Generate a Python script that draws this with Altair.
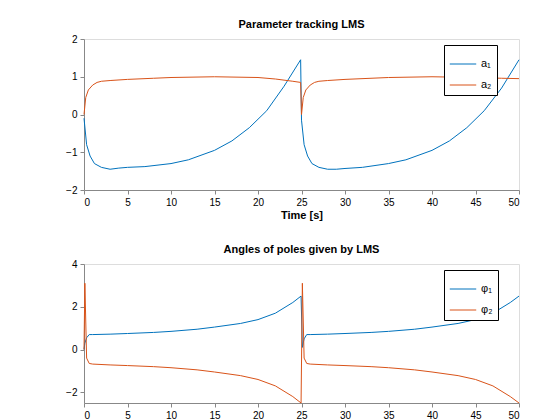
import altair as alt
import pandas as pd

BLUE = "#0072BD"
ORANGE = "#D95319"

# top panel: parameters a1, a2
t_a1 = [0, 0.3, 0.7, 1.2, 2, 3, 4, 5, 7, 10, 12, 15, 17, 19, 21, 23, 24.9,
        25.0, 25.3, 25.7, 26.2, 27, 28, 29, 30, 32, 35, 37, 40, 42, 44, 46, 48, 50]
a1 = [-0.1, -0.8, -1.1, -1.3, -1.4, -1.45, -1.42, -1.4, -1.38, -1.3, -1.2, -0.95, -0.7, -0.35, 0.1, 0.75, 1.45,
      -0.15, -0.8, -1.1, -1.3, -1.4, -1.45, -1.45, -1.43, -1.4, -1.3, -1.2, -0.95, -0.7, -0.35, 0.1, 0.7, 1.45]
t_a2 = [0, 0.2, 0.5, 1, 1.5, 2, 3, 5, 8, 10, 15, 20, 22, 24, 24.9,
        25, 25.2, 25.5, 26, 26.5, 27, 28, 30, 35, 40, 45, 48, 50]
a2 = [0, 0.45, 0.65, 0.78, 0.85, 0.88, 0.9, 0.93, 0.96, 0.98, 1.0, 0.98, 0.94, 0.88, 0.85,
      0, 0.45, 0.65, 0.78, 0.85, 0.88, 0.9, 0.93, 0.98, 1.0, 0.98, 0.96, 0.95]

# bottom panel: pole angles
t_phi = [0, 0.1, 0.3, 0.6, 1, 3, 5, 8, 10, 13, 15, 18, 20, 22, 24, 24.95,
         25.1, 25.3, 25.6, 26, 28, 30, 33, 35, 38, 40, 43, 45, 47, 49, 50]
phi1 = [0, 0.3, 0.55, 0.7, 0.7, 0.72, 0.75, 0.8, 0.85, 0.95, 1.05, 1.22, 1.4, 1.7, 2.2, 2.5,
        0.1, 0.5, 0.7, 0.7, 0.72, 0.75, 0.8, 0.85, 0.95, 1.05, 1.22, 1.4, 1.7, 2.2, 2.5]
phi2 = [0, 3.1, -0.4, -0.65, -0.68, -0.72, -0.75, -0.8, -0.85, -0.95, -1.05, -1.22, -1.4, -1.7, -2.2, -2.5,
        3.1, -0.4, -0.65, -0.68, -0.72, -0.75, -0.8, -0.85, -0.95, -1.05, -1.22, -1.4, -1.7, -2.2, -2.5]

top = pd.concat([
    pd.DataFrame({"t": t_a1, "v": a1, "s": "a₁", "i": range(len(t_a1))}),
    pd.DataFrame({"t": t_a2, "v": a2, "s": "a₂", "i": range(len(t_a2))}),
])
bot = pd.concat([
    pd.DataFrame({"t": t_phi, "v": phi1, "s": "φ₁", "i": range(len(t_phi))}),
    pd.DataFrame({"t": t_phi, "v": phi2, "s": "φ₂", "i": range(len(t_phi))}),
])

FONT = "Liberation Sans"


def panel(df, title, names, ydom, yvals, h, ly):
    return alt.Chart(df, title=alt.Title(title, fontSize=11, fontWeight="bold", font=FONT, offset=4)).mark_line(
        strokeWidth=1
    ).encode(
        x=alt.X("t:Q", title="Time [s]", scale=alt.Scale(domain=[0, 50], nice=False),
                axis=alt.Axis(values=list(range(0, 51, 5)), grid=False, tickSize=4, labelPadding=3, titlePadding=2)),
        y=alt.Y("v:Q", title=None, scale=alt.Scale(domain=ydom, nice=False),
                axis=alt.Axis(values=yvals, grid=False, tickSize=4, labelPadding=3)),
        color=alt.Color("s:N", scale=alt.Scale(domain=names, range=[BLUE, ORANGE]),
                        legend=alt.Legend(title=None, orient="none", legendX=360, legendY=ly,
                                          symbolType="stroke", symbolSize=700, symbolStrokeWidth=1,
                                          strokeColor="black", fillColor="white", padding=5,
                                          labelFontSize=11, labelFont=FONT)),
        order="i:Q",
    ).properties(width=435, height=h)


c1 = panel(top, "Parameter tracking LMS", ["a₁", "a₂"], [-2, 2], [-2, -1, 0, 1, 2], 151, 6)
c2 = panel(bot, "Angles of poles given by LMS", ["φ₁", "φ₂"], [-2.5, 4], [-2, 0, 2, 4], 139, 6)

chart = alt.vconcat(c1, c2, spacing=22).resolve_scale(color="independent").configure_axis(
    labelFont=FONT, titleFont=FONT, labelFontSize=10, titleFontSize=11, labelColor="#262626",
    titleColor="#262626", domainColor="#262626", tickColor="#262626",
    titleFontWeight="normal"
).configure_view(stroke="#262626").configure(padding={"left": 57, "top": 10, "right": 5, "bottom": 5})

chart.save("out.html", embed_options={"renderer": "svg", "actions": False})
